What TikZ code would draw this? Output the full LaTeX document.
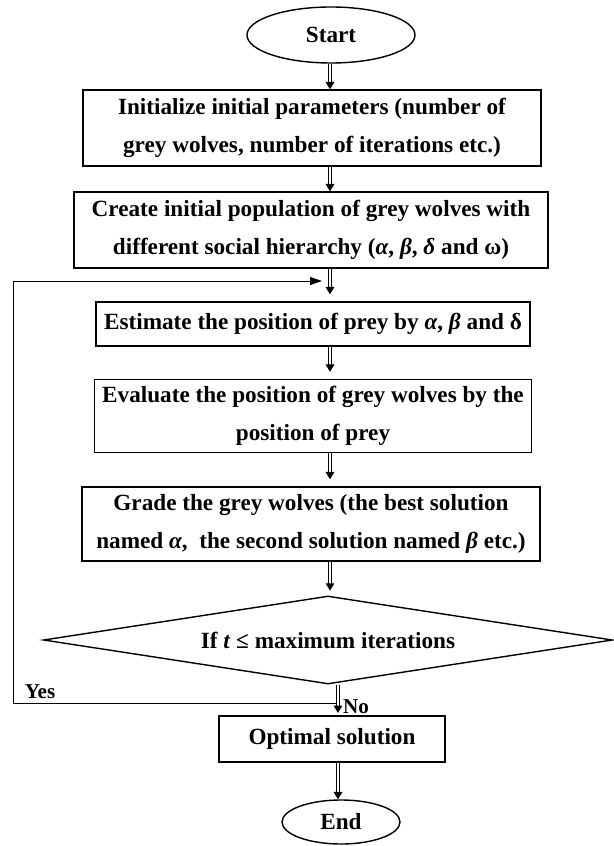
\documentclass[tikz,border=0pt]{standalone}
\usepackage{fontspec}
\setmainfont{Liberation Serif}
\usetikzlibrary{shapes.geometric, arrows.meta}

\tikzset{
  boxfont/.style={font=\bfseries\fontsize{19.8}{32}\selectfont},
  procbox/.style={draw, line width=1.2pt, align=center, inner sep=0pt, boxfont},
  termbox/.style={draw, ellipse, line width=1.2pt, inner sep=0pt, boxfont},
  decisionbox/.style={draw, diamond, line width=1.2pt, aspect=6.5, inner sep=0pt, boxfont},
  flowarrow/.style={double, double distance=1.3pt, line width=0.9pt, -{Triangle[length=2.2mm,width=2.6mm]}},
  looparrow/.style={line width=0.8pt, -{Triangle[length=3.6mm,width=2.4mm]}},
  branchlabel/.style={font=\bfseries\fontsize{18}{20}\selectfont, inner sep=0pt}
}

\begin{document}
\begin{tikzpicture}[x=0.03cm,y=-0.03cm]
\useasboundingbox (0,0) rectangle (613,846);

% column of the connectors
\coordinate (axis) at (330,0);
\coordinate (lowaxis) at (338,0);

% terminals, steps and test
\node[termbox, minimum width=5.04cm, minimum height=1.68cm] (start) at (331,35) {Start};
\node[procbox, minimum width=13.74cm, minimum height=2.28cm] (initbox) at (312,128)
  {Initialize initial parameters (number of\\ grey wolves, number of iterations etc.)};
\node[procbox, minimum width=14.22cm, minimum height=2.28cm] (popbox) at (311,230)
  {Create initial population of grey wolves with\\ different social hierarchy (\textit{α}, \textit{β}, \textit{δ} and ω)};
\node[procbox, minimum width=13.02cm, minimum height=1.32cm] (estbox) at (313,324)
  {Estimate the position of prey by \textit{α}, \textit{β} and δ};
\node[procbox, minimum width=13.1cm, minimum height=2.19cm] (evalbox) at (313,416)
  {Evaluate the position of grey wolves by the\\ position of prey};
\node[procbox, minimum width=13.74cm, minimum height=2.22cm] (gradebox) at (311,524)
  {Grade the grey wolves (the best solution\\ named \textit{α},~ the second solution named \textit{β} etc.)};
\node[decisionbox, minimum width=17.07cm, minimum height=2.64cm] (decide) at (328,640)
  {If \textit{t} ≤ maximum iterations};
\node[procbox, minimum width=6.78cm, minimum height=1.38cm] (optbox) at (332,739) {Optimal solution};
\node[termbox, minimum width=3.54cm, minimum height=1.32cm] (endnode) at (341,822) {End};

% main flow
\draw[flowarrow] (start.south -| axis) -- (initbox.north -| axis);
\draw[flowarrow] (initbox.south -| axis) -- (popbox.north -| axis);
\draw[flowarrow, shorten >=6pt] (popbox.south -| axis) -- (estbox.north -| axis);
\draw[flowarrow, shorten >=6pt] (estbox.south -| axis) -- (evalbox.north -| axis);
\draw[flowarrow, shorten >=6pt] (evalbox.south -| axis) -- (gradebox.north -| axis);
\draw[flowarrow, shorten >=4pt] (gradebox.south -| axis) -- (decide.north -| axis);
\draw[flowarrow, shorten >=2pt] (decide.south -| lowaxis) -- (optbox.north -| lowaxis);
\draw[flowarrow] (optbox.south -| lowaxis) -- (endnode.north -| lowaxis);

% back to the loop
\coordinate (yesjoin) at (337,703);
\coordinate (rail) at (13,281);
\coordinate (loopin) at (322,281);
\draw[looparrow] (yesjoin) -| (rail) -- (loopin);

\node[branchlabel, anchor=south] (yeslabel) at (40,699) {Yes};
\node[branchlabel, anchor=west] (nolabel) at (343,707) {No};
\end{tikzpicture}
\end{document}
